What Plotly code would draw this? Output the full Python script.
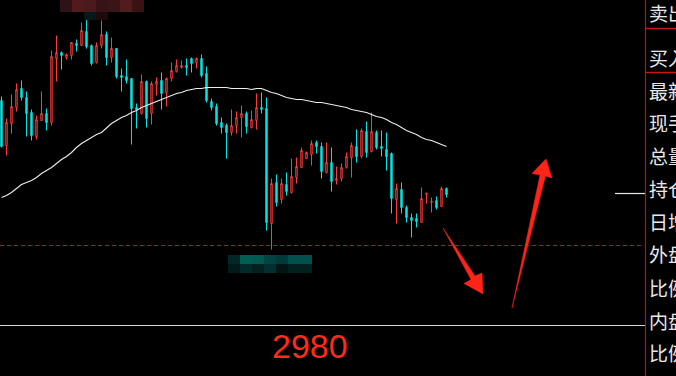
import plotly.graph_objects as go

# ---------------- data ----------------
candle_idx = list(range(90))
open_ = [3205,3160,3182,3198,3217,3208,3193,3169,3185,3192,
         3183,3247,3253,3248,3250,3262,3260,3274,3260,3243,
         3260,3271,3248,3257,3230,3229,3227,3198,3192,3224,
         3192,3221,3225,3213,3227,3234,3238,3240,3247,3243,
         3247,3232,3204,3199,3183,3180,3173,3180,3188,3192,
         3178,3185,3198,3197,3082,3123,3106,3121,3113,3128,
         3138,3147,3151,3163,3159,3133,3143,3125,3127,3138,
         3148,3159,3149,3174,3154,3173,3159,3156,3152,3106,
         3116,3098,3088,3087,3083,3111,3103,3105,3099,3117]
high = [3209,3187,3211,3222,3225,3214,3196,3190,3214,3197,
        3255,3270,3254,3252,3263,3266,3283,3286,3261,3263,
        3285,3274,3268,3257,3237,3246,3227,3202,3231,3225,
        3224,3228,3233,3228,3243,3246,3245,3247,3248,3248,
        3251,3239,3207,3202,3188,3182,3196,3194,3200,3194,
        3195,3212,3213,3208,3127,3131,3127,3133,3147,3148,
        3158,3154,3165,3165,3163,3163,3158,3139,3142,3153,
        3163,3176,3177,3184,3193,3175,3175,3173,3153,3122,
        3123,3100,3092,3092,3118,3113,3108,3109,3119,3118]
low = [3158,3150,3172,3194,3205,3169,3165,3166,3185,3175,
       3180,3224,3236,3246,3246,3254,3260,3257,3240,3242,
       3257,3240,3243,3227,3214,3222,3161,3177,3191,3178,
       3181,3210,3196,3199,3224,3233,3237,3230,3233,3237,
       3228,3203,3195,3180,3172,3147,3170,3172,3168,3172,
       3177,3176,3192,3075,3056,3099,3102,3110,3112,3122,
       3138,3147,3140,3152,3127,3132,3114,3121,3124,3137,
       3128,3143,3147,3148,3153,3156,3149,3135,3092,3082,
       3092,3083,3068,3078,3083,3102,3093,3096,3099,3108]
close = [3159,3183,3199,3216,3208,3192,3170,3186,3192,3183,
         3249,3253,3250,3251,3263,3260,3275,3259,3242,3260,
         3271,3248,3257,3229,3228,3225,3197,3196,3224,3187,
         3222,3224,3212,3227,3235,3240,3240,3238,3242,3247,
         3230,3205,3198,3182,3178,3173,3180,3188,3192,3179,
         3186,3198,3196,3083,3122,3103,3122,3114,3129,3139,
         3155,3153,3162,3159,3134,3143,3124,3127,3138,3149,
         3160,3149,3175,3153,3174,3158,3157,3149,3107,3117,
         3098,3088,3085,3084,3107,3112,3104,3098,3117,3111]
ma = [3108,3110,3113,3117,3121,3123,3125,3128,3132,3135,
      3138,3142,3146,3149,3153,3158,3162,3165,3168,3171,
      3173,3178,3182,3185,3188,3190,3193,3195,3198,3200,
      3202,3204,3206,3208,3210,3212,3213,3215,3216,3217,
      3217,3218,3218,3218,3218,3218,3217,3217,3217,3217,
      3216,3217,3217,3215,3213,3212,3210,3208,3207,3206,
      3206,3205,3204,3203,3203,3202,3201,3200,3199,3198,
      3196,3195,3194,3193,3191,3189,3188,3186,3183,3181,
      3178,3175,3173,3171,3168,3166,3165,3163,3161,3159]
low_line_price = 3060
base_line_price = 2980
last_price = 3112
base_label = "2980"
panel_labels = ["卖出", "买入", "最新", "现手", "总量", "持仓", "日增", "外盘", "比例", "内盘", "比例"]

# ---------------- layout helpers ----------------
W, H = 676, 376
PLOT_W = 645
def px(x):
    return x / W
def py(y):
    return 1 - y / H

RED = "#ff3c3c"
CYAN = "#00e6e6"

fig = go.Figure()
fig.add_trace(go.Candlestick(
    x=candle_idx, open=open_, high=high, low=low, close=close,
    increasing=dict(line=dict(color=RED, width=1), fillcolor="#000000"),
    decreasing=dict(line=dict(color=CYAN, width=1), fillcolor=CYAN),
    whiskerwidth=0, showlegend=False, hoverinfo="skip",
))
fig.add_trace(go.Scatter(
    x=candle_idx, y=ma, mode="lines",
    line=dict(color="#eeeeee", width=1.1), showlegend=False, hoverinfo="skip",
))

shapes = []
# price lines
shapes.append(dict(type="line", xref="paper", yref="y", x0=0, x1=px(PLOT_W - 4),
                   y0=low_line_price, y1=low_line_price,
                   line=dict(color="#b41818", width=1, dash="4px,3px")))
shapes.append(dict(type="line", xref="paper", yref="y", x0=0, x1=px(PLOT_W),
                   y0=base_line_price, y1=base_line_price,
                   line=dict(color="#d8d8d8", width=1.2)))
shapes.append(dict(type="line", xref="paper", yref="y", x0=px(615), x1=px(PLOT_W),
                   y0=last_price, y1=last_price,
                   line=dict(color="#e8e8e8", width=1.2)))
# right panel frame
shapes.append(dict(type="line", xref="paper", yref="paper", x0=px(PLOT_W + 0.5), x1=px(PLOT_W + 0.5),
                   y0=0, y1=1, line=dict(color="#b41414", width=1.2)))
for yy in (28.5, 72.5):
    shapes.append(dict(type="line", xref="paper", yref="paper", x0=px(PLOT_W), x1=1,
                       y0=py(yy), y1=py(yy), line=dict(color="#c81414", width=1.5)))

# arrows
def poly(points):
    d = "M " + " L ".join(f"{px(a):.5f},{py(b):.5f}" for a, b in points) + " Z"
    return d
arrow_col = "#ff2418"
shapes.append(dict(type="path", xref="paper", yref="paper", layer="above",
                   path=poly([(443, 228), (475, 276), (482, 273), (483, 294), (464, 283.5), (471, 279.5)]),
                   fillcolor=arrow_col, line=dict(color=arrow_col, width=0.5)))
shapes.append(dict(type="path", xref="paper", yref="paper", layer="above",
                   path=poly([(512, 308), (540, 175), (532, 173.5), (546, 159), (552, 178), (545.5, 176)]),
                   fillcolor=arrow_col, line=dict(color=arrow_col, width=0.5)))

# pixelated (blurred) labels
top_cols = ["#2e1216", "#521a1c", "#4a1a1c", "#361416", "#3a1416", "#521c1e", "#3a1214"]
for k, c in enumerate(top_cols):
    shapes.append(dict(type="rect", xref="paper", yref="paper", layer="above",
                       x0=px(60 + 12 * k), x1=px(72 + 12 * k), y0=py(12), y1=py(0),
                       fillcolor=c, line=dict(width=0)))
for k, c in enumerate(["#061818", "#1e0a0c"]):
    shapes.append(dict(type="rect", xref="paper", yref="paper", layer="above",
                       x0=px(84 + 12 * k), x1=px(96 + 12 * k), y0=py(20), y1=py(12),
                       fillcolor=c, line=dict(width=0)))
bot_top = ["#032626", "#005e54", "#005a50", "#004444", "#003a3a", "#005050", "#00504e"]
bot_bot = ["#031a1a", "#032a2a", "#022222", "#023030", "#021515", "#022020", "#022020"]
for k in range(7):
    x0 = 228 + 12 * k
    shapes.append(dict(type="rect", xref="paper", yref="paper", layer="above",
                       x0=px(x0), x1=px(x0 + 12), y0=py(264), y1=py(255),
                       fillcolor=bot_top[k], line=dict(width=0)))
    shapes.append(dict(type="rect", xref="paper", yref="paper", layer="above",
                       x0=px(x0), x1=px(x0 + 12), y0=py(273), y1=py(264),
                       fillcolor=bot_bot[k], line=dict(width=0)))

annotations = []
label_y = [13, 57, 90, 122, 155, 188, 221, 254, 287, 320, 352]
for t, yy in zip(panel_labels, label_y):
    annotations.append(dict(text=t, xref="paper", yref="paper", x=px(647), y=py(yy),
                            xanchor="left", yanchor="middle", showarrow=False,
                            font=dict(size=19, color="#e8e8e8", family="Noto Sans CJK SC")))
annotations.append(dict(text=base_label, xref="paper", yref="paper", x=px(310), y=py(346),
                        xanchor="center", yanchor="middle", showarrow=False,
                        font=dict(size=34, color="#ff2a1a", family="Liberation Sans")))

fig.update_layout(
    width=W, height=H,
    margin=dict(l=0, r=0, t=0, b=0),
    paper_bgcolor="#000000", plot_bgcolor="#000000",
    boxgap=0.6,
    xaxis=dict(domain=[0, PLOT_W / W], range=[-0.3, -0.3 + PLOT_W / 5],
               visible=False, showgrid=False, zeroline=False, rangeslider=dict(visible=False)),
    yaxis=dict(domain=[0, 1], range=[3305.5 - H, 3305.5], visible=False,
               showgrid=False, zeroline=False),
    shapes=shapes, annotations=annotations,
    showlegend=False,
)
fig.write_html("out.html", config={"displayModeBar": False},
               post_script="document.body.style.margin='0';document.body.style.background='#000';")
